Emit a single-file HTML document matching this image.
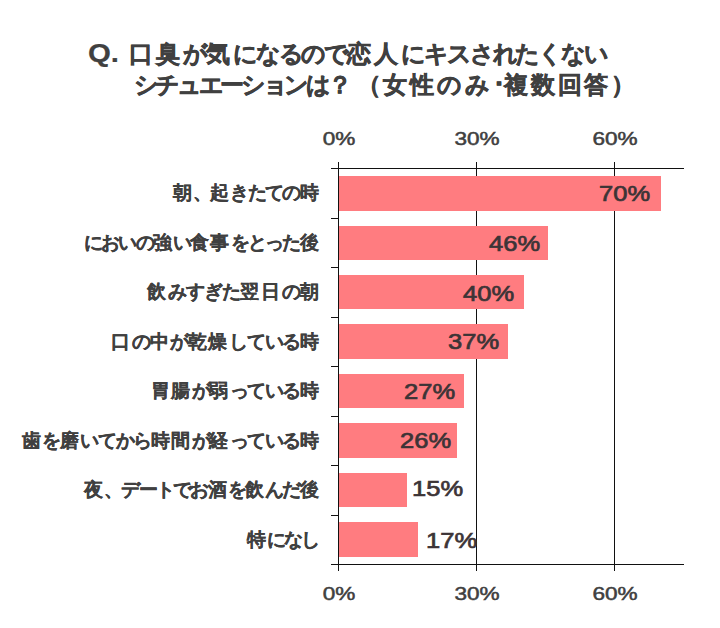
<!DOCTYPE html>
<html lang="ja">
<head>
<meta charset="utf-8">
<title>Q. 口臭が気になるので恋人にキスされたくないシチュエーションは？</title>
<style>
html,body{margin:0;padding:0;background:#fff;}
body{width:720px;height:628px;position:relative;overflow:hidden;
  font-family:"Liberation Sans",sans-serif;color:#404040;}
h1{margin:0;font-weight:bold;font-size:24px;line-height:32px;}
h1 .tl{display:block;position:absolute;height:32px;white-space:nowrap;
  letter-spacing:-2.15px;text-align:justify;text-align-last:justify;text-justify:inter-character;
  -webkit-text-stroke:0.5px #404040;}
h1 .k{letter-spacing:3.0px;}
h1 .q{left:88px;top:37px;width:30px;letter-spacing:0;text-align:left;text-align-last:left;
  transform-origin:0 50%;transform:scaleX(1.13);font-size:26px;-webkit-text-stroke:0.2px #404040;}
.ln{position:absolute;background:#111;}
.bar{position:absolute;left:339px;height:34.5px;background:#ff7c80;}
.cat{position:absolute;white-space:nowrap;
  font-weight:bold;font-size:18.5px;line-height:24px;height:24px;letter-spacing:-2.0px;
  text-align:justify;text-align-last:justify;text-justify:inter-character;
  -webkit-text-stroke:0.2px #404040;}
.cat .k{letter-spacing:0.8px;}
.val{position:absolute;font-weight:normal;-webkit-text-stroke:0.7px #3c3436;color:#3c3436;font-size:22px;line-height:24px;height:24px;white-space:nowrap;
  transform-origin:0 50%;transform:scaleX(1.16);}
.ax{position:absolute;font-size:18.5px;line-height:22px;height:22px;width:60px;text-align:center;white-space:nowrap;
  transform:scaleX(1.22);-webkit-text-stroke:0.5px #404040;}
</style>
</head>
<body>
<h1>
<span class="tl q">Q.</span>
<span class="tl" style="left:129px;top:38px;width:477.6px"><span class="k">口臭</span>が<span class="k">気</span>になるので<span class="k">恋人</span>にキスされたくない</span>
<span class="tl" style="left:133.8px;top:68.5px;width:214.4px;letter-spacing:-3.4px">シチュエーションは？</span>
<span class="tl" style="left:356.5px;top:68.5px;width:281.2px;letter-spacing:2.2px">（女性のみ<span style="letter-spacing:-2.7px">･</span>複数回答）</span>
</h1>

<!-- grid lines (behind bars) -->
<div class="ln" style="left:476px;top:162px;width:1px;height:409px"></div>
<div class="ln" style="left:614px;top:162px;width:1px;height:409px"></div>

<!-- bars -->
<div class="bar" style="top:176px;width:321.8px"></div>
<div class="bar" style="top:225.5px;width:209.2px"></div>
<div class="bar" style="top:274.9px;width:184.9px"></div>
<div class="bar" style="top:324.4px;width:168.8px"></div>
<div class="bar" style="top:373.8px;width:125px"></div>
<div class="bar" style="top:423.3px;width:117.9px"></div>
<div class="bar" style="top:472.8px;width:67.7px"></div>
<div class="bar" style="top:522.2px;width:78.9px"></div>

<!-- axes and ticks -->
<div class="ln" style="left:338px;top:162px;width:1px;height:409px"></div>
<div class="ln" style="left:331px;top:168px;width:353px;height:1px"></div>
<div class="ln" style="left:331px;top:564px;width:353px;height:1px"></div>
<div class="ln" style="left:331px;top:218px;width:7px;height:1px"></div>
<div class="ln" style="left:331px;top:267px;width:7px;height:1px"></div>
<div class="ln" style="left:331px;top:317px;width:7px;height:1px"></div>
<div class="ln" style="left:331px;top:366px;width:7px;height:1px"></div>
<div class="ln" style="left:331px;top:416px;width:7px;height:1px"></div>
<div class="ln" style="left:331px;top:465px;width:7px;height:1px"></div>
<div class="ln" style="left:331px;top:515px;width:7px;height:1px"></div>

<!-- category labels -->
<div class="cat" style="left:172.8px;top:181px;width:146.6px"><span class="k">朝</span>、<span class="k">起</span>きたての<span class="k">時</span></div>
<div class="cat" style="left:83.9px;top:231px;width:235.5px">においの<span class="k">強</span>い<span class="k">食事</span>をとった<span class="k">後</span></div>
<div class="cat" style="left:146.8px;top:280px;width:173.1px"><span class="k">飲</span>みすぎた<span class="k">翌日</span>の<span class="k">朝</span></div>
<div class="cat" style="left:111.2px;top:330px;width:208.7px"><span class="k">口</span>の<span class="k">中</span>が<span class="k">乾燥</span>している<span class="k">時</span></div>
<div class="cat" style="left:150.8px;top:379px;width:169.0px"><span class="k">胃腸</span>が<span class="k">弱</span>っている<span class="k">時</span></div>
<div class="cat" style="left:21.9px;top:429px;width:297.9px"><span class="k">歯</span>を<span class="k">磨</span>いてから<span class="k">時間</span>が<span class="k">経</span>っている<span class="k">時</span></div>
<div class="cat" style="left:83.9px;top:478px;width:235.5px"><span class="k">夜</span>、デートでお<span class="k">酒</span>を<span class="k">飲</span>んだ<span class="k">後</span></div>
<div class="cat" style="left:247.2px;top:528px;width:68.3px"><span class="k">特</span>になし</div>

<!-- value labels -->
<div class="val" style="left:599px;top:182px">70%</div>
<div class="val" style="left:489px;top:232px">46%</div>
<div class="val" style="left:463px;top:281.5px">40%</div>
<div class="val" style="left:448px;top:330px">37%</div>
<div class="val" style="left:404px;top:380px">27%</div>
<div class="val" style="left:400px;top:429px">26%</div>
<div class="val" style="left:412px;top:477px">15%</div>
<div class="val" style="left:426px;top:528.5px">17%</div>

<!-- axis labels -->
<div class="ax" style="left:308.5px;top:128px">0%</div>
<div class="ax" style="left:446.5px;top:128px">30%</div>
<div class="ax" style="left:584.5px;top:128px">60%</div>
<div class="ax" style="left:308.5px;top:583px">0%</div>
<div class="ax" style="left:446.5px;top:583px">30%</div>
<div class="ax" style="left:584.5px;top:583px">60%</div>
</body>
</html>
